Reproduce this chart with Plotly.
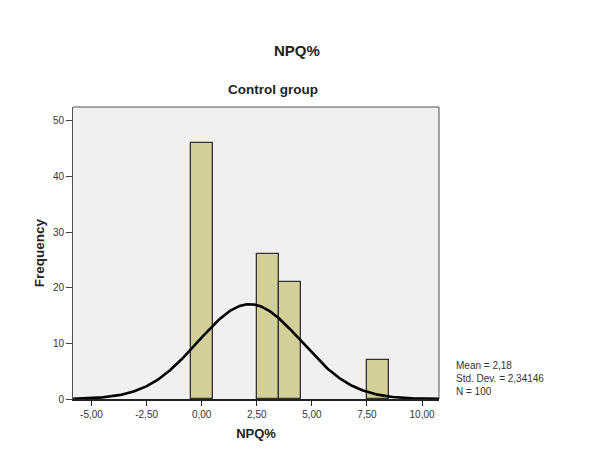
import math
import plotly.graph_objects as go

# ---- data ----
bin_centers = [0, 3, 4, 8]
frequencies = [46, 26, 21, 7]
bin_width = 1.0
mean_val = 2.18
std_val = 2.34146
n_total = 100
x_tickvals = [-5, -2.5, 0, 2.5, 5, 7.5, 10]
x_ticktext = ["-5,00", "-2,50", "0,00", "2,50", "5,00", "7,50", "10,00"]
y_tickvals = [0, 10, 20, 30, 40, 50]

# normal curve from stated mean / std dev
curve_x = [-5.84 + i * (10.77 + 5.84) / 400 for i in range(401)]
curve_y = [n_total * bin_width / (std_val * math.sqrt(2 * math.pi))
           * math.exp(-0.5 * ((x - mean_val) / std_val) ** 2) for x in curve_x]

OFF = 8  # page body offset
L, R, T, B = 73 - OFF, 161 + OFF, 107 - OFF, 51 + OFF
PW, PH = 600 - L - R, 450 - T - B


def px(xs):
    return (xs - OFF - L) / PW


def py(ys):
    return (450 - B - (ys - OFF)) / PH


fig = go.Figure()
fig.add_trace(go.Bar(
    x=bin_centers, y=frequencies, width=bin_width,
    marker=dict(color="#D3CF98", line=dict(color="#333333", width=1.3)),
    hoverinfo="x+y",
))
fig.add_trace(go.Scatter(
    x=curve_x, y=curve_y, mode="lines",
    line=dict(color="black", width=2.6), hoverinfo="skip",
))

fig.update_layout(
    width=600, height=450,
    margin=dict(l=L, r=R, t=T, b=B),
    paper_bgcolor="white", plot_bgcolor="#F0F0F0",
    showlegend=False, bargap=0,
    font=dict(family="Liberation Sans, Arial, sans-serif", size=10, color="#222"),
    xaxis=dict(
        range=[-5.84, 10.77], tickvals=x_tickvals, ticktext=x_ticktext,
        ticks="outside", ticklen=5, tickcolor="#222", showgrid=False, zeroline=False,
        showline=True, linecolor="#222", linewidth=1.5, mirror=False,
        title=dict(text="<b>NPQ%</b>", font=dict(size=13, color="#222"), standoff=10),
        tickfont=dict(size=10, color="#333"),
    ),
    yaxis=dict(
        range=[0, 52.5], tickvals=y_tickvals,
        ticks="outside", ticklen=6, tickcolor="#444", showgrid=False, zeroline=False,
        showline=True, linecolor="#555", linewidth=1, mirror=False,
        title=dict(text="<b>Frequency</b>", font=dict(size=13.5, color="#222"), standoff=5),
        tickfont=dict(size=10, color="#333"),
    ),
    shapes=[
        dict(type="line", xref="paper", yref="paper", x0=0, x1=1, y0=1, y1=1,
             line=dict(color="#555", width=1)),
        dict(type="line", xref="paper", yref="paper", x0=1, x1=1, y0=0, y1=1,
             line=dict(color="#555", width=1)),
    ],
    annotations=[
        dict(text="<b>NPQ%</b>", xref="paper", yref="paper", x=px(297),
             y=py(50), xanchor="center", yanchor="middle",
             showarrow=False, font=dict(size=15, color="#222")),
        dict(text="<b>Control group</b>", xref="paper", yref="paper", x=px(273),
             y=py(89), xanchor="center", yanchor="middle",
             showarrow=False, font=dict(size=13.5, color="#222")),
        dict(text=f"Mean = {str(mean_val).replace('.', ',')}<br>"
                  f"Std. Dev. = {str(std_val).replace('.', ',')}<br>N = {n_total}",
             xref="paper", yref="paper", x=px(454), y=py(378),
             xanchor="left", yanchor="middle", align="left", showarrow=False,
             font=dict(size=10, color="#333")),
    ],
)

fig.write_html("out.html")
